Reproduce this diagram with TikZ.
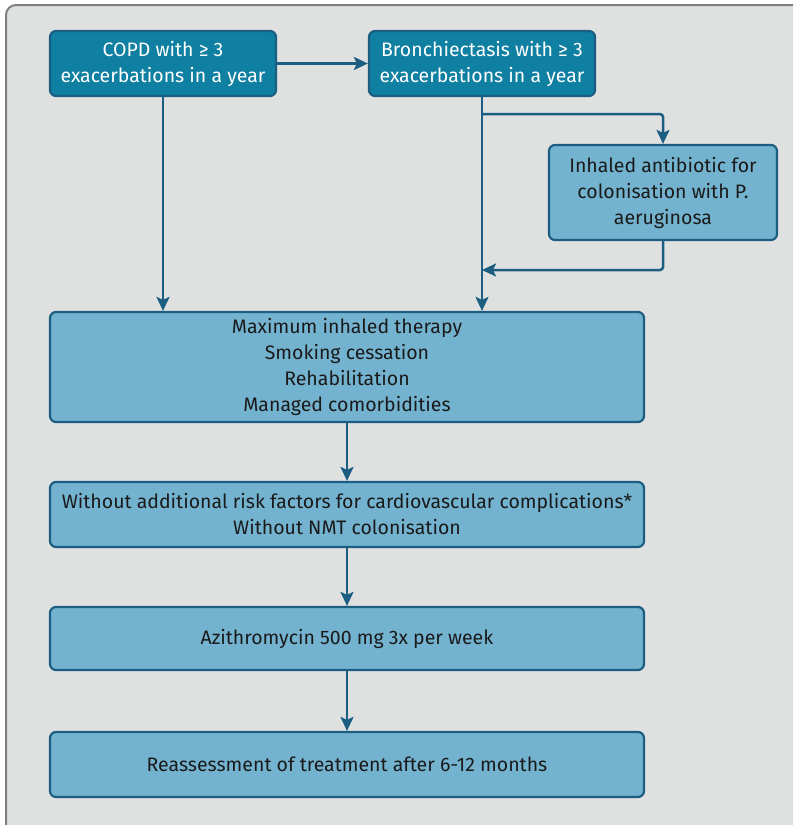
\documentclass[tikz,border=0pt]{standalone}
\usepackage{fontspec}
\setmainfont{Fira Sans}
\usetikzlibrary{arrows.meta,calc}
\definecolor{bgc}{HTML}{DFE0E0}
\definecolor{framec}{HTML}{7F7F7F}
\definecolor{darkbox}{HTML}{0F7FA2}
\definecolor{lightbox}{HTML}{74B3D0}
\definecolor{edgec}{HTML}{1B5E81}
\definecolor{txt}{HTML}{1A1A1A}
\tikzset{
  base/.style={draw=edgec, line width=2.2pt, rounded corners=6pt, align=center,
    inner sep=0pt, font=\fontsize{19.5}{26}\selectfont},
  darkb/.style={base, fill=darkbox, text=white},
  lightb/.style={base, fill=lightbox, text=txt},
  conn/.style={draw=edgec, line width=2.5pt, -{Stealth[length=14pt,width=13pt,inset=3pt]}},
}
\begin{document}
\begin{tikzpicture}[x=1pt,y=-1pt]
\useasboundingbox (0,0) rectangle (793,825);
\begin{scope}
\clip (0,0) rectangle (793,825);
\draw[framec, fill=bgc, line width=2pt, rounded corners=10pt] (6,5) rectangle (830,860);
\end{scope}

\node[darkb, minimum width=226pt, minimum height=65pt] (copd) at (163,63.5) {COPD with ≥ 3\\exacerbations in a year};
\node[darkb, minimum width=226pt, minimum height=65pt] (bron) at (482,63.5) {Bronchiectasis with ≥ 3\\exacerbations in a year};
\node[lightb, minimum width=228pt, minimum height=95pt] (anti) at (663,192.5) {Inhaled antibiotic for\\colonisation with P.\\aeruginosa};
\node[lightb, minimum width=594pt, minimum height=110pt] (max) at (347,367) {Maximum inhaled therapy\\Smoking cessation\\Rehabilitation\\Managed comorbidities};
\node[lightb, minimum width=594pt, minimum height=65pt] (without) at (347,514.5) {Without additional risk factors for cardiovascular complications*\\Without NMT colonisation};
\node[lightb, minimum width=594pt, minimum height=63pt] (azi) at (347,638.5) {Azithromycin 500 mg 3x per week};
\node[lightb, minimum width=594pt, minimum height=65pt] (reass) at (347,764.5) {Reassessment of treatment after 6-12 months};

\coordinate (b1) at (482,114);
\coordinate (b2) at (482,270);

\draw[conn] (copd.east) -- (bron.west);
\draw[conn] (copd.south) -- (copd.south |- max.north);
\draw[conn] (bron.south) -- (bron.south |- max.north);
\draw[conn, rounded corners=3pt] (b1) -| (anti.north);
\draw[conn, rounded corners=3pt] (anti.south) |- (b2);
\draw[conn] (max.south) -- (without.north);
\draw[conn] (without.south) -- (azi.north);
\draw[conn] (azi.south) -- (reass.north);
\end{tikzpicture}
\end{document}
